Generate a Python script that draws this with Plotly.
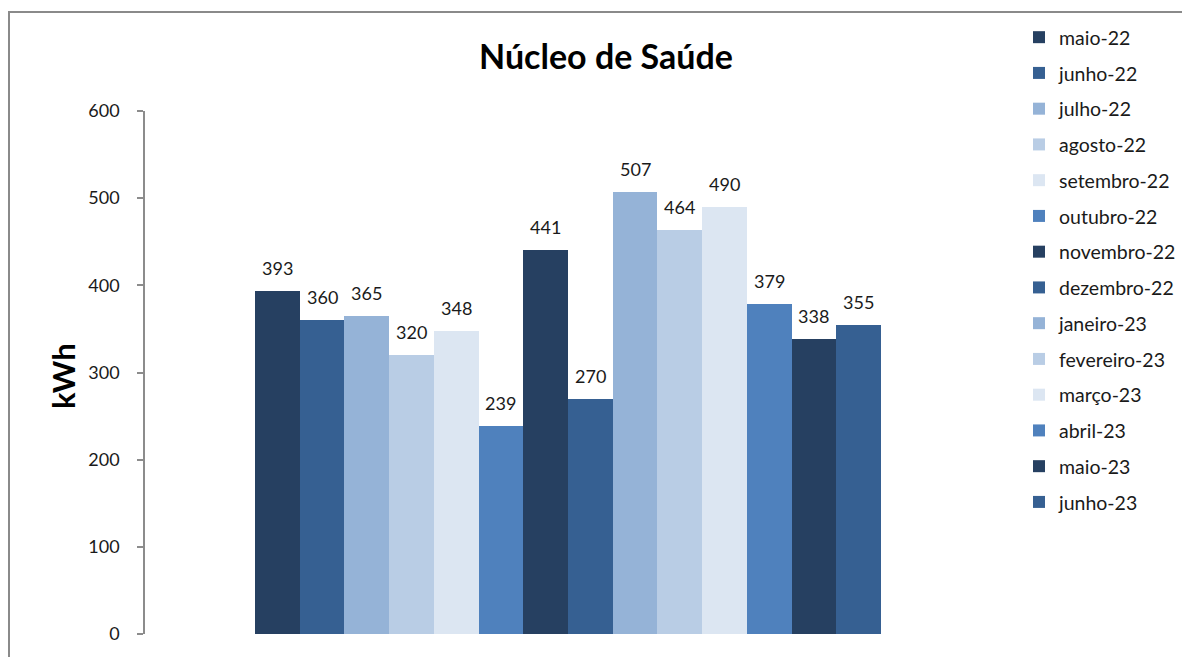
import plotly.graph_objects as go

months = ["maio-22", "junho-22", "julho-22", "agosto-22", "setembro-22", "outubro-22",
          "novembro-22", "dezembro-22", "janeiro-23", "fevereiro-23", "março-23",
          "abril-23", "maio-23", "junho-23"]
values = [393, 360, 365, 320, 348, 239, 441, 270, 507, 464, 490, 379, 338, 355]
palette = ["#264061", "#366092", "#95B3D7", "#B9CDE5", "#DCE6F2", "#4F81BD"]

title_text = "Núcleo de Saúde"
y_title = "kWh"
y_ticks = [0, 100, 200, 300, 400, 500, 600]

FONT = "Lato"
OFF = 8  # page body margin
W, H = 1190 - OFF, 657 - OFF
# plot-area edges in figure pixels
L, R = 145 - OFF, 991 - OFF
YT, B = 111 - OFF, 634 - OFF       # y=600 and y=0
PT = 10                           # paper top (for legend room)
PH = B - PT


def px(fx):
    return (fx - OFF - L) / (R - L)


def py(fy):
    return (B - (fy - OFF)) / PH


fig = go.Figure()
for i, (m, v) in enumerate(zip(months, values)):
    fig.add_trace(go.Bar(
        x=[m], y=[v], name=m, legendgroup=m,
        marker=dict(color=palette[i % len(palette)], line=dict(width=0)),
        hoverinfo="x+y",
    ))

annotations = []
for m, v in zip(months, values):
    annotations.append(dict(x=m, y=v, xref="x", yref="y", text=str(v), showarrow=False,
                            yanchor="middle", xanchor="center", yshift=23,
                            font=dict(family=FONT, size=18, color="#1a1a1a")))
annotations.append(dict(x=px(63), y=py(376), xref="paper", yref="paper",
                        text="<b>" + y_title + "</b>", showarrow=False, textangle=-90,
                        xanchor="center", yanchor="middle",
                        font=dict(family=FONT, size=31, color="#000000")))

bar_w = (881 - 255) / 14.0
xmin = -0.5 - (255 - 145) / bar_w
xmax = 13.5 + (991 - 881) / bar_w

fig.update_layout(
    width=W, height=H,
    margin=dict(l=L, r=W - R, t=PT, b=H - B, pad=0, autoexpand=False),
    paper_bgcolor="white", plot_bgcolor="white",
    barmode="overlay", bargap=0,
    showlegend=True,
    title=dict(text="<b>" + title_text + "</b>", x=(606 - OFF) / W, y=1 - (57 - OFF) / H,
               xref="container", yref="container", xanchor="center", yanchor="middle",
               font=dict(family=FONT, size=34, color="#000000")),
    legend=dict(x=px(1019), y=1, xref="paper", yref="paper",
                xanchor="left", yanchor="top", traceorder="grouped", tracegroupgap=7.4,
                font=dict(family=FONT, size=19.5, color="#1a1a1a"),
                bgcolor="rgba(0,0,0,0)", borderwidth=0),
    xaxis=dict(type="category", range=[xmin, xmax], showticklabels=False, showline=False,
               showgrid=False, zeroline=False, ticks=""),
    yaxis=dict(range=[0, 600], tickvals=y_ticks, domain=[0, (B - YT) / PH],
               showgrid=False, zeroline=False,
               showline=True, linecolor="#8c8c8c", linewidth=1.5,
               ticks="outside", ticklen=6, tickwidth=1.5, tickcolor="#8c8c8c",
               ticklabelstandoff=14,
               tickfont=dict(family=FONT, size=18, color="#1a1a1a")),
    annotations=annotations,
    shapes=[dict(type="rect", xref="paper", yref="paper",
                 x0=px(9), x1=px(1210), y0=py(680), y1=py(12),
                 line=dict(color="#8a8a8a", width=2), fillcolor="rgba(0,0,0,0)",
                 layer="below")],
)

fig.write_html("out.html")
